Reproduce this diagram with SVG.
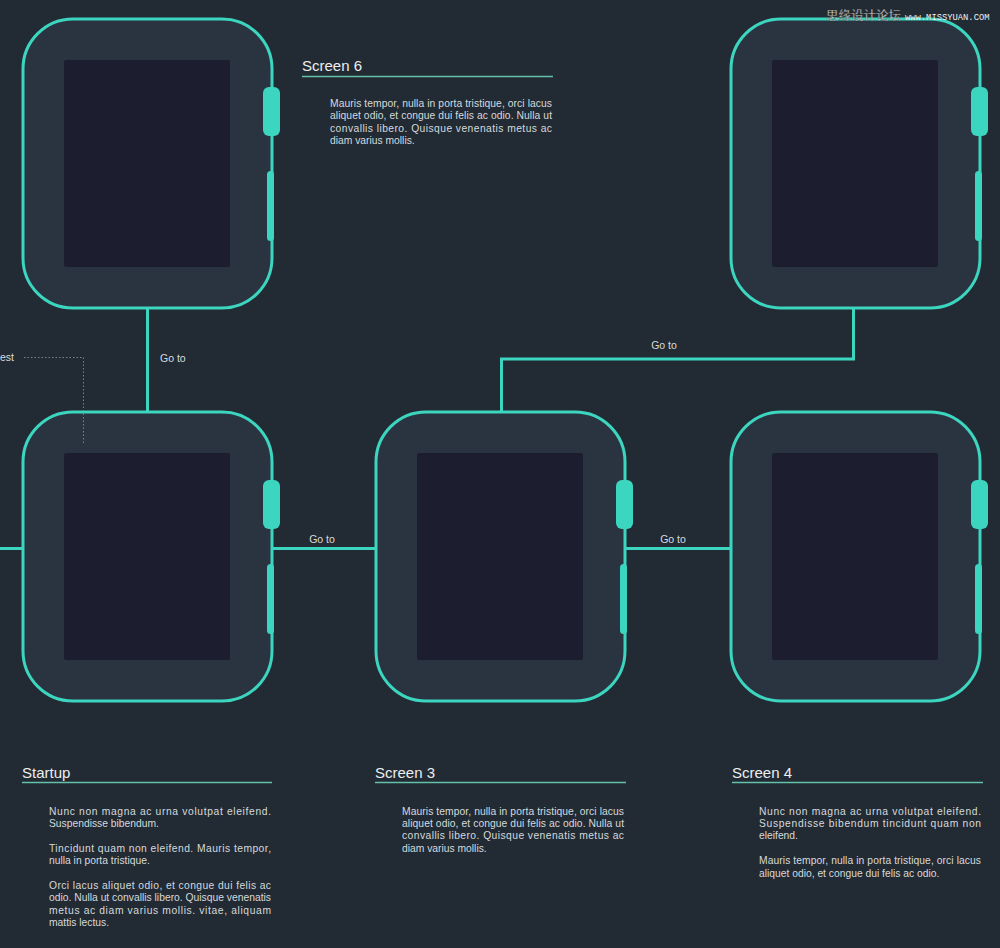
<svg xmlns="http://www.w3.org/2000/svg" xmlns:xlink="http://www.w3.org/1999/xlink" width="1000" height="948" viewBox="0 0 1000 948">
<style>
.title{font-family:"Liberation Sans",Arial,sans-serif;font-size:15px;fill:#eceeef;}
.body{font-family:"Liberation Sans",Arial,sans-serif;font-size:10.3px;fill:#d6dadd;}
.lbl{font-family:"Liberation Sans",Arial,sans-serif;font-size:10.5px;fill:#d8dcdf;}
.rule{stroke:#63c2a9;stroke-width:1.3;}
.conn{fill:none;stroke:#3cd5bf;stroke-width:3;}
.teal{fill:#3cd5bf;}
</style>
<defs>
<g id="watch">
<rect x="0" y="0" width="249" height="289" rx="50" fill="#2a3441" stroke="#3cd5bf" stroke-width="3"/>
<rect x="41" y="41" width="166" height="207" rx="2" fill="#1c1e2f"/>
<rect x="240" y="68" width="17" height="49" rx="6" class="teal"/>
<rect x="244" y="152" width="7" height="70" rx="3.5" class="teal"/>
</g>
</defs>
<rect width="1000" height="948" fill="#222a33"/>

<g id="screen6">
<use xlink:href="#watch" href="#watch" x="23" y="19"/>
<text class="title" x="302" y="71">Screen 6</text>
<line class="rule" x1="302" y1="76.5" x2="553" y2="76.5"/>
<text class="body" x="330" y="107" textLength="222" lengthAdjust="spacing">Mauris tempor, nulla in porta tristique, orci lacus</text>
<text class="body" x="330" y="119.4" textLength="222" lengthAdjust="spacing">aliquet odio, et congue dui felis ac odio. Nulla ut</text>
<text class="body" x="330" y="131.8" textLength="222" lengthAdjust="spacing">convallis libero. Quisque venenatis metus ac</text>
<text class="body" x="330" y="144.2">diam varius mollis.</text>
</g>

<g id="screen5">
<use xlink:href="#watch" href="#watch" x="731" y="19"/>
</g>

<g id="startup">
<use xlink:href="#watch" href="#watch" x="23" y="412"/>
<text class="title" x="22" y="777.5">Startup</text>
<line class="rule" x1="22" y1="782.5" x2="272" y2="782.5"/>
<text class="body" x="49" y="814.5" textLength="222" lengthAdjust="spacing">Nunc non magna ac urna volutpat eleifend.</text>
<text class="body" x="49" y="826.9">Suspendisse bibendum.</text>
<text class="body" x="49" y="851.7" textLength="222" lengthAdjust="spacing">Tincidunt quam non eleifend. Mauris tempor,</text>
<text class="body" x="49" y="864.1">nulla in porta tristique.</text>
<text class="body" x="49" y="888.9" textLength="222" lengthAdjust="spacing">Orci lacus aliquet odio, et congue dui felis ac</text>
<text class="body" x="49" y="901.3" textLength="222" lengthAdjust="spacing">odio. Nulla ut convallis libero. Quisque venenatis</text>
<text class="body" x="49" y="913.7" textLength="222" lengthAdjust="spacing">metus ac diam varius mollis. vitae, aliquam</text>
<text class="body" x="49" y="926.1">mattis lectus.</text>
</g>

<g id="screen3">
<use xlink:href="#watch" href="#watch" x="376" y="412"/>
<text class="title" x="375" y="777.5">Screen 3</text>
<line class="rule" x1="375" y1="782.5" x2="626" y2="782.5"/>
<text class="body" x="402" y="814.5" textLength="222" lengthAdjust="spacing">Mauris tempor, nulla in porta tristique, orci lacus</text>
<text class="body" x="402" y="826.9" textLength="222" lengthAdjust="spacing">aliquet odio, et congue dui felis ac odio. Nulla ut</text>
<text class="body" x="402" y="839.3" textLength="222" lengthAdjust="spacing">convallis libero. Quisque venenatis metus ac</text>
<text class="body" x="402" y="851.7">diam varius mollis.</text>
</g>

<g id="screen4">
<use xlink:href="#watch" href="#watch" x="731" y="412"/>
<text class="title" x="732" y="777.5">Screen 4</text>
<line class="rule" x1="732" y1="782.5" x2="983" y2="782.5"/>
<text class="body" x="759" y="814.5" textLength="222" lengthAdjust="spacing">Nunc non magna ac urna volutpat eleifend.</text>
<text class="body" x="759" y="826.9" textLength="222" lengthAdjust="spacing">Suspendisse bibendum tincidunt quam non</text>
<text class="body" x="759" y="839.3">eleifend.</text>
<text class="body" x="759" y="864.1" textLength="222" lengthAdjust="spacing">Mauris tempor, nulla in porta tristique, orci lacus</text>
<text class="body" x="759" y="876.5">aliquet odio, et congue dui felis ac odio.</text>
</g>

<g id="connectors">
<path class="conn" d="M147.5 309 V411"/>
<path class="conn" d="M0 548.5 H22"/>
<path class="conn" d="M273 548.5 H375"/>
<path class="conn" d="M626 548.5 H730"/>
<path class="conn" d="M501.5 411 V359 H853.5 V309"/>
<path d="M24 357.5 H83.5 V445" fill="none" stroke="#7b8189" stroke-width="1" stroke-dasharray="1.5 2"/>
<text class="lbl" x="160" y="362">Go to</text>
<text class="lbl" x="322" y="543" text-anchor="middle">Go to</text>
<text class="lbl" x="673" y="543" text-anchor="middle">Go to</text>
<text class="lbl" x="664" y="349" text-anchor="middle">Go to</text>
<text class="lbl" x="0" y="361">est</text>
</g>

<g id="watermark">
<text x="826" y="20" font-family="'Noto Sans CJK SC',sans-serif" font-size="12.5" fill="#f0f0f0" stroke="#2a2a2a" stroke-width="0.3">思缘设计论坛</text>
<text x="905" y="20" font-family="'Liberation Mono',monospace" font-size="8.8" fill="#f0f0f0">www.MISSYUAN.COM</text>
</g>
</svg>
